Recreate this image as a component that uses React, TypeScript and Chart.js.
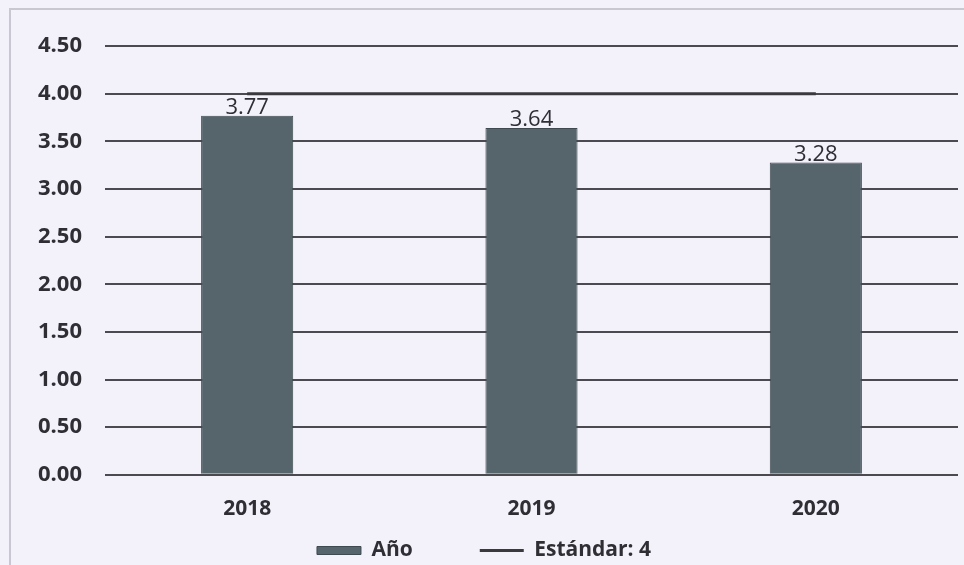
import React, { useEffect, useRef } from "react";
import { Chart, registerables } from "chart.js";

Chart.register(...registerables);

const categories = ["2018", "2019", "2020"];
const anioValues = [3.77, 3.64, 3.28];
const standardValues = [4, 4, 4];
const seriesNames = ["Año", "Estándar: 4"];

const FONT = "'Open Sans', 'DejaVu Sans', sans-serif";
const TEXT = "#2e2e34";

const valueLabels = {
  id: "valueLabels",
  afterDatasetsDraw(chart: any) {
    const ctx = chart.ctx;
    const meta = chart.getDatasetMeta(0);
    ctx.save();
    ctx.font = `22px ${FONT}`;
    ctx.fillStyle = TEXT;
    ctx.textAlign = "center";
    ctx.textBaseline = "bottom";
    meta.data.forEach((el: any, i: number) => {
      ctx.fillText(anioValues[i].toFixed(2), el.x, el.y + 3);
    });
    ctx.restore();
  },
};

export default function App() {
  const ref = useRef<HTMLCanvasElement>(null);
  useEffect(() => {
    if (!ref.current) return;
    const chart = new Chart(ref.current, {
      type: "bar",
      data: {
        labels: categories,
        datasets: [
          {
            type: "bar",
            label: seriesNames[0],
            data: anioValues,
            backgroundColor: "#56646b",
            borderColor: "#3f4a50",
            borderWidth: 1,
            categoryPercentage: 1,
            barPercentage: 0.324,
            pointStyle: "rect",
          } as any,
          {
            type: "line",
            label: seriesNames[1],
            data: standardValues,
            borderColor: "#3a3a3e",
            backgroundColor: "#3a3a3e",
            borderWidth: 3,
            pointRadius: 0,
            pointStyle: "line",
          } as any,
        ],
      },
      options: {
        animation: false,
        responsive: false,
        maintainAspectRatio: false,
        layout: { padding: { top: 34, right: 6, bottom: 0, left: 0 } },
        plugins: {
          legend: {
            position: "bottom",
            labels: {
              usePointStyle: true,
              pointStyleWidth: 44,
              boxHeight: 8,
              padding: 4,
              color: TEXT,
              font: { family: FONT, size: 21, weight: "bold" },
              generateLabels: (chart: any) => {
                const items = Chart.defaults.plugins.legend.labels.generateLabels(chart);
                items.forEach((it: any, i: number) => {
                  if (i === 0) it.text = it.text + "\u2003\u2003\u2003";
                });
                return items;
              },
            },
          },
          tooltip: { enabled: false },
        },
        scales: {
          x: {
            grid: { display: false },
            border: { display: false },
            ticks: {
              color: TEXT,
              padding: 14,
              font: { family: FONT, size: 21, weight: "bold" },
            },
          },
          y: {
            min: 0,
            max: 4.5,
            afterFit: (s: any) => {
              s.width = 95;
            },
            grid: { color: "#4a4a50", lineWidth: 2, drawTicks: false },
            border: { display: false },
            ticks: {
              stepSize: 0.5,
              padding: 23,
              color: TEXT,
              font: { family: FONT, size: 22, weight: "bold" },
              callback: (v: any) => Number(v).toFixed(2),
            },
          },
        },
      },
      plugins: [valueLabels],
    });
    return () => chart.destroy();
  }, []);

  return (
    <div
      style={{
        position: "fixed",
        left: 0,
        top: 0,
        width: 964,
        height: 565,
        background: "#f3f1fa",
        overflow: "hidden",
      }}
    >
      <div
        style={{
          position: "absolute",
          left: 9,
          top: 8,
          width: 980,
          height: 600,
          borderLeft: "2px solid #c9c7d2",
          borderTop: "2px solid #c9c7d2",
        }}
      />
      <canvas
        ref={ref}
        width={954}
        height={561}
        style={{ position: "absolute", left: 10, top: 10, width: 954, height: 561 }}
      />
    </div>
  );
}
